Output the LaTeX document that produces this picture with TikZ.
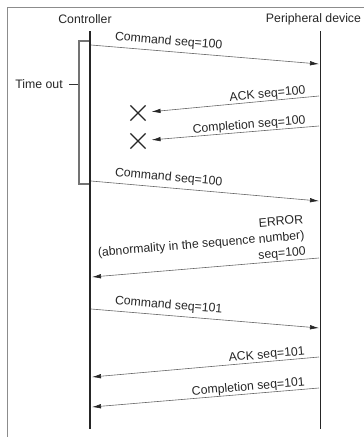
\documentclass[tikz,border=0pt]{standalone}
\usepackage{fontspec}
\setmainfont{Liberation Sans}
\usetikzlibrary{arrows.meta,shapes.misc}
\tikzset{
  frameline/.style={draw=black!45, line width=0.8pt},
  lifeline/.style={draw=black!85, line width=1.8pt},
  headlabel/.style={font=\fontsize{12.3}{15}\selectfont, text=black!85},
  msg/.style={draw=black!60, line width=0.6pt, -{Latex[length=9pt,width=4.5pt,color=black!85]}},
  msgback/.style={draw=black!60, line width=0.6pt, {Latex[length=9pt,width=4.5pt,color=black!85]}-},
  cmdlabel/.style={font=\fontsize{12.3}{15}\selectfont, text=black!85, sloped, inner sep=4pt, anchor=south west},
  replylabel/.style={font=\fontsize{12.3}{15}\selectfont, text=black!85, sloped, inner sep=0.5pt, anchor=south east},
  lostmark/.style={cross out, draw=black!85, line width=1.2pt, minimum size=14pt, inner sep=0pt},
  timeoutbar/.style={draw=black!55, line width=1.5pt},
}

\begin{document}
\begin{tikzpicture}[x=1pt, y=-1pt]
\useasboundingbox (0,0) rectangle (364,437);
\draw[frameline] (7,437) -- (7,7) -- (364,7);

\node[headlabel] (ctrl) at (85,19) {Controller};
\node[headlabel] (periph) at (313.5,19) {Peripheral device};
\coordinate (ctrltop) at (90,31);
\coordinate (ctrlbot) at (90,429);
\coordinate (periphtop) at (320.5,31);
\coordinate (periphbot) at (320.5,429);
\draw[lifeline] (ctrltop) -- (ctrlbot);
\draw[lifeline] (periphtop) -- (periphbot);

\draw[timeoutbar] (89,41) -- (79,41) -- (79,184) -- (89,184);
\node[headlabel] (timeout) at (39,84) {Time out};
\coordinate (timeoutend) at (78,84);
\draw[black!80, line width=0.8pt] ([xshift=3pt]timeout.east) -- (timeoutend);

\coordinate (c1) at (91,45);
\coordinate (p1) at (319,64);
\draw[msg] (c1) -- (p1) node[cmdlabel, pos=0.083] {Command seq=100};

\node[lostmark] (x1) at (138,113) {};
\coordinate (p2) at (319,96);
\draw[msgback, shorten <=6pt] (x1) -- (p2) node[replylabel, pos=0.93] {ACK seq=100};

\node[lostmark] (x2) at (138,141) {};
\coordinate (p3) at (319,126);
\draw[msgback, shorten <=6pt] (x2) -- (p3) node[replylabel, pos=0.93] {Completion seq=100};

\coordinate (c4) at (91,181);
\coordinate (p4) at (319,201);
\draw[msg] (c4) -- (p4) node[cmdlabel, pos=0.083] {Command seq=100};

\coordinate (c5) at (92,277);
\coordinate (p5) at (319,258);
\draw[msgback] (c5) -- (p5) node[replylabel, inner sep=1pt, pos=0.95, align=right,
  font=\fontsize{12.3}{16}\selectfont]
  {ERROR\\(abnormality in the sequence number)\\seq=100};

\coordinate (c6) at (91,309);
\coordinate (p6) at (319,328);
\draw[msg] (c6) -- (p6) node[cmdlabel, pos=0.083] {Command seq=101};

\coordinate (c7) at (92,377);
\coordinate (p7) at (319,357);
\draw[msgback] (c7) -- (p7) node[replylabel, pos=0.943] {ACK seq=101};

\coordinate (c8) at (92,407);
\coordinate (p8) at (319,388);
\draw[msgback] (c8) -- (p8) node[replylabel, pos=0.943] {Completion seq=101};
\end{tikzpicture}
\end{document}
